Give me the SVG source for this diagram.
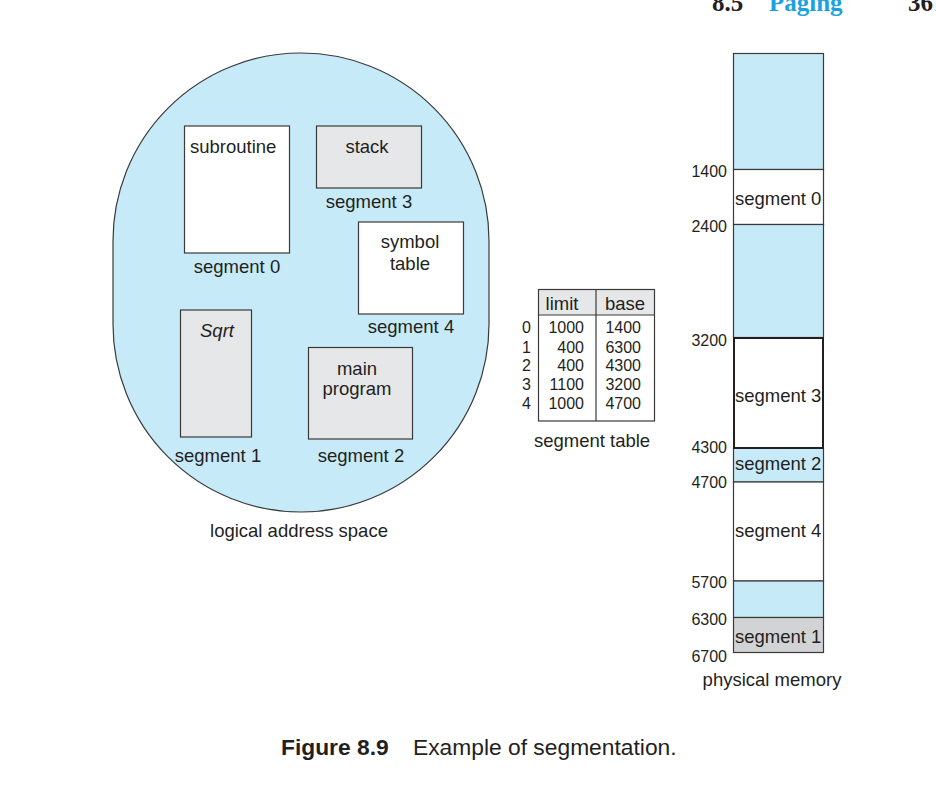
<svg xmlns="http://www.w3.org/2000/svg" width="936" height="791" viewBox="0 0 936 791">
<style>
.t{font-family:"Liberation Sans",Arial,sans-serif;font-size:18.5px;fill:#231f20}
.n{font-family:"Liberation Sans",Arial,sans-serif;font-size:16px;fill:#231f20}
.c{text-anchor:middle}
.e{text-anchor:end}
.box{stroke:#3a3a3a;stroke-width:1.2}
.blue{fill:#c7eaf9}
.gray{fill:#e6e7e8}
.white{fill:#ffffff}
.hdr{font-family:"Liberation Serif","Times New Roman",serif;font-weight:bold;font-size:25px}
</style>
<rect width="936" height="791" fill="#ffffff"/>
<g id="header">
<text class="hdr" x="712" y="11" fill="#231f20">8.5</text>
<text class="hdr" x="769" y="11" fill="#1ba1e2">Paging</text>
<text class="hdr" x="908" y="11" fill="#231f20">367</text>
</g>
<g id="logical-address-space">
<path class="box blue" d="M113,241 A188,188 0 0 1 489,241 L489,324 A188,188 0 0 1 113,324 Z"/>
<text class="t c" x="299" y="537">logical address space</text>
</g>
<g id="seg0-subroutine">
<rect class="box white" x="184.5" y="126" width="105" height="127"/>
<text class="t" x="190" y="153">subroutine</text>
<text class="t c" x="237" y="273">segment 0</text>
</g>
<g id="seg3-stack">
<rect class="box gray" x="316.5" y="126" width="105" height="62"/>
<text class="t c" x="367" y="153">stack</text>
<text class="t c" x="369" y="208">segment 3</text>
</g>
<g id="seg4-symbol-table">
<rect class="box white" x="358.5" y="222" width="105" height="92"/>
<text class="t c" x="410" y="248">symbol</text>
<text class="t c" x="410" y="270">table</text>
<text class="t c" x="411" y="333">segment 4</text>
</g>
<g id="seg1-sqrt">
<rect class="box gray" x="180.5" y="310" width="71" height="127"/>
<text class="t c" x="217" y="337" font-style="italic" font-size="17.5">Sqrt</text>
<text class="t c" x="218" y="462">segment 1</text>
</g>
<g id="seg2-main">
<rect class="box gray" x="308.5" y="347.5" width="104" height="91.5"/>
<text class="t c" x="357" y="375">main</text>
<text class="t c" x="357" y="395">program</text>
<text class="t c" x="361" y="462">segment 2</text>
</g>
<g id="segment-table">
<rect x="538.5" y="289.5" width="116" height="25.5" class="gray"/>
<rect x="538.5" y="289.5" width="116" height="131.5" fill="none" class="box"/>
<line x1="538.5" y1="315" x2="654.5" y2="315" class="box"/>
<line x1="596" y1="289.5" x2="596" y2="421" class="box"/>
<text class="t c" x="562" y="309.5" font-size="18">limit</text>
<text class="t c" x="625" y="309.5" font-size="18">base</text>
<text class="n" x="522" y="333" font-size="16.5">0</text>
<text class="n" x="522" y="352.5" font-size="16.5">1</text>
<text class="n" x="522" y="371" font-size="16.5">2</text>
<text class="n" x="522" y="389.5" font-size="16.5">3</text>
<text class="n" x="522" y="408.5" font-size="16.5">4</text>
<text class="n e" x="584" y="333">1000</text>
<text class="n e" x="584" y="352.5">400</text>
<text class="n e" x="584" y="371">400</text>
<text class="n e" x="584" y="389.5">1100</text>
<text class="n e" x="584" y="408.5">1000</text>
<text class="n e" x="641" y="333">1400</text>
<text class="n e" x="641" y="352.5">6300</text>
<text class="n e" x="641" y="371">4300</text>
<text class="n e" x="641" y="389.5">3200</text>
<text class="n e" x="641" y="408.5">4700</text>
<text class="t c" x="592" y="447">segment table</text>
</g>
<g id="physical-memory">
<rect class="box blue" x="733.5" y="53.5" width="90" height="116"/>
<rect class="box white" x="733.5" y="169.5" width="90" height="55"/>
<rect class="box blue" x="733.5" y="224.5" width="90" height="113"/>
<rect class="box blue" x="733.5" y="448" width="90" height="34"/>
<rect class="box white" x="733.5" y="482" width="90" height="99"/>
<rect class="box blue" x="733.5" y="581" width="90" height="36.5"/>
<rect class="box" fill="#d2d3d5" x="733.5" y="617.5" width="90" height="35"/>
<rect fill="#ffffff" stroke="#231f20" stroke-width="2" x="734" y="338" width="89" height="110"/>
<text class="t" x="735" y="205">segment 0</text>
<text class="t" x="735" y="402">segment 3</text>
<text class="t" x="735" y="470">segment 2</text>
<text class="t" x="735" y="537">segment 4</text>
<text class="t" x="735" y="643">segment 1</text>
<text class="n e" x="727" y="177">1400</text>
<text class="n e" x="727" y="232">2400</text>
<text class="n e" x="727" y="346">3200</text>
<text class="n e" x="727" y="453">4300</text>
<text class="n e" x="727" y="488">4700</text>
<text class="n e" x="727" y="588">5700</text>
<text class="n e" x="727" y="625">6300</text>
<text class="n e" x="727" y="662">6700</text>
<text class="t c" x="772" y="686">physical memory</text>
</g>
<g id="connectors"></g>
<g id="caption">
<text x="281" y="755" font-family="'Liberation Sans',Arial,sans-serif" font-size="22.8" fill="#231f20"><tspan font-weight="bold">Figure 8.9</tspan><tspan x="413">Example of segmentation.</tspan></text>
</g>
</svg>
